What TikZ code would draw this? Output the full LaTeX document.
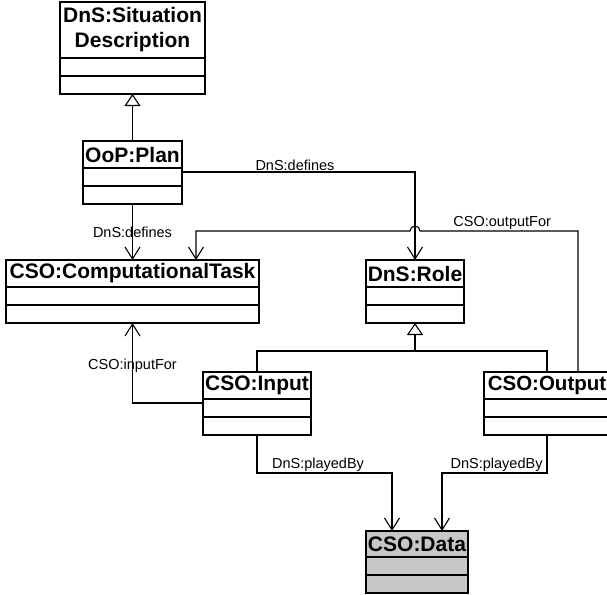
\documentclass[tikz,border=0pt]{standalone}
\usepackage{fontspec}
\setmainfont{Liberation Sans}
\usetikzlibrary{positioning,arrows.meta,calc}
\tikzset{
  classhead/.style={draw, line width=1.6pt, inner sep=0pt, outer sep=0pt, minimum height=27pt, align=center, font=\fontsize{21}{25}\selectfont\bfseries},
  classpart/.style={draw, line width=1.6pt, inner sep=0pt, outer sep=0pt, minimum height=18pt},
  assocarrow/.style={-{Straight Barb[length=12pt,width=15pt]}, line width=1.1pt},
  genarrow/.style={-{Triangle[open,length=12pt,width=16pt,fill=white]}, line width=1.1pt},
  plainline/.style={line width=1.1pt},
  rolelabel/.style={font=\fontsize{14.5}{17}\selectfont, inner sep=1pt},
  datafill/.style={fill=black!22}
}

\begin{document}
\begin{tikzpicture}[x=1pt, y=-1pt]
  \useasboundingbox (0,0) rectangle (607,594);
  \clip (0,0) rectangle (607,594);

  % classes: a title box with two empty compartments below
  \node[classhead, minimum width=145pt, minimum height=56pt] (sitdesc) at (132.5,30) {DnS:Situation\\Description};
  \node[classpart, minimum width=145pt, below=0pt of sitdesc] (sitdesc-a) {};
  \node[classpart, minimum width=145pt, below=0pt of sitdesc-a] (sitdesc-b) {};

  \node[classhead, minimum width=99pt] (plan) at (132.5,154.5) {OoP:Plan};
  \node[classpart, minimum width=99pt, below=0pt of plan] (plan-a) {};
  \node[classpart, minimum width=99pt, below=0pt of plan-a] (plan-b) {};

  \node[classhead, minimum width=253pt] (comptask) at (132.5,273.5) {CSO:ComputationalTask};
  \node[classpart, minimum width=253pt, below=0pt of comptask] (comptask-a) {};
  \node[classpart, minimum width=253pt, below=0pt of comptask-a] (comptask-b) {};

  \node[classhead, minimum width=98pt] (role) at (415,273.5) {DnS:Role};
  \node[classpart, minimum width=98pt, below=0pt of role] (role-a) {};
  \node[classpart, minimum width=98pt, below=0pt of role-a] (role-b) {};

  \node[classhead, minimum width=108pt] (input) at (257,385.5) {CSO:Input};
  \node[classpart, minimum width=108pt, below=0pt of input] (input-a) {};
  \node[classpart, minimum width=108pt, below=0pt of input-a] (input-b) {};

  % this one runs off the right edge
  \node[classhead, minimum width=126pt, font=\fontsize{20.5}{25}\selectfont\bfseries] (output) at (547,385.5) {CSO:Output};
  \node[classpart, minimum width=126pt, below=0pt of output] (output-a) {};
  \node[classpart, minimum width=126pt, below=0pt of output-a] (output-b) {};

  \node[classhead, datafill, minimum width=102pt, minimum height=26pt] (data) at (417,544) {CSO:Data};
  \node[classpart, datafill, minimum width=102pt, below=0pt of data] (data-a) {};
  \node[classpart, datafill, minimum width=102pt, below=0pt of data-a] (data-b) {};

  % generalisation
  \draw[genarrow] (plan.north) -- (sitdesc-b.south);
  \coordinate (fork) at ($(role-b.south)+(0,28)$);
  \draw[plainline] (input.north) |- (fork) -| (output.north);
  \draw[genarrow] (fork) -- (role-b.south);

  % associations
  \draw[assocarrow] (plan-b.south) -- node[rolelabel] {DnS:defines} (comptask.north);
  \draw[assocarrow] ([yshift=5pt]plan-a.east) -| node[rolelabel, pos=0.2425, above] {DnS:defines} (role.north);
  \coordinate (hop) at ($(role.north)+(5,-29)$);
  \draw[assocarrow] ([xshift=31pt]output.north) |- node[rolelabel, pos=0.74, above] {CSO:outputFor} (hop)
    arc[start angle=0, end angle=180, radius=5pt] -| ([xshift=63.5pt]comptask.north);
  \draw[assocarrow] ([yshift=5pt]input-a.west) -| node[rolelabel, pos=0.73] {CSO:inputFor} (comptask-b.south);
  \draw[assocarrow] (input-b.south) -- ++(0,38) -| node[rolelabel, pos=0.226, above] {DnS:playedBy} ([xshift=-25pt]data.north);
  \draw[assocarrow] (output-b.south) -- ++(0,38) -| node[rolelabel, pos=0.24, above] {DnS:playedBy} ([xshift=25pt]data.north);
\end{tikzpicture}
\end{document}
